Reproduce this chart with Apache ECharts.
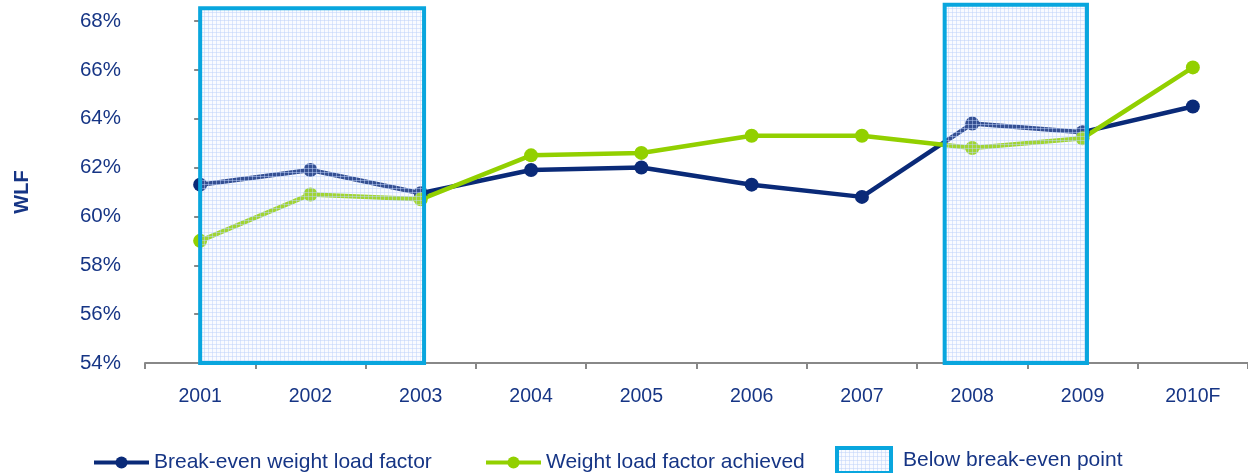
<!DOCTYPE html>
<html>
<head>
<meta charset="utf-8">
<script src="https://cdn.jsdelivr.net/npm/echarts@6/dist/echarts.min.js"></script>
<style>html,body{margin:0;padding:0;background:#fff}#c{width:1248px;height:473px}</style>
</head>
<body>
<div id="c"></div>
<script>
var categories = ['2001','2002','2003','2004','2005','2006','2007','2008','2009','2010F'];
var breakEven = [61.3, 61.9, 60.95, 61.9, 62.0, 61.3, 60.8, 63.8, 63.45, 64.5];
var achieved  = [59.0, 60.9, 60.7, 62.5, 62.6, 63.3, 63.3, 62.8, 63.2, 66.1];
var yTicks = [54, 56, 58, 60, 62, 64, 66, 68];
// Shaded "below break-even" spans, in category-index units, and their top in %
var belowStart = [0, 6.75];
var belowEnd   = [2.03, 8.04];
var belowTop   = [68.52, 68.67];

var NAVY = '#0a2a78', GREEN = '#92d000', CYAN = '#09a6de', TXT = '#163585';
var FONT = 'Liberation Sans, Arial, sans-serif';

var pc = document.createElement('canvas');
pc.width = 4; pc.height = 4;
var g = pc.getContext('2d');
g.fillStyle = 'rgba(225,235,255,0.2)'; g.fillRect(0,0,4,4);
g.fillStyle = 'rgba(190,210,250,0.5)'; g.fillRect(0,0,4,1); g.fillRect(0,0,1,4);
var pattern = {image: pc, repeat: 'repeat'};

var rects = belowStart.map(function(s, i){ return [s, belowEnd[i], belowTop[i]]; });

var legendText = {color: TXT, fontSize: 21, fontFamily: FONT};
var chart = echarts.init(document.getElementById('c'), null, {renderer: 'canvas'});
chart.setOption({
  animation: false,
  textStyle: {fontFamily: FONT},
  grid: {left: 145, right: 0, top: 21, bottom: 110, containLabel: false, outerBoundsMode: 'none'},
  legend: [
    {left: 92, top: 452, padding: 0, itemWidth: 55, itemHeight: 15, itemGap: 0,
     textStyle: legendText,
     data: [{name: 'Break-even weight load factor', lineStyle: {width: 4}}]},
    {left: 484, top: 452, padding: 0, itemWidth: 55, itemHeight: 15, itemGap: 0,
     textStyle: legendText,
     data: [{name: 'Weight load factor achieved', lineStyle: {width: 4}}]},
    {left: 835, top: 446, padding: 0, itemWidth: 54, itemHeight: 25, itemGap: 0,
     textStyle: {color: TXT, fontSize: 21, fontFamily: FONT, padding: [0,0,0,7]},
     data: [{name: 'Below break-even point', icon: 'rect',
             itemStyle: {color: pattern, borderColor: CYAN, borderWidth: 4}}]}
  ],
  xAxis: [
    {type: 'category', data: categories, boundaryGap: true,
     axisLine: {lineStyle: {color: '#888', width: 2}},
     axisTick: {show: true, length: 6, lineStyle: {color: '#888', width: 2}},
     axisLabel: {color: TXT, fontSize: 19.5, margin: 24, fontFamily: FONT},
     splitLine: {show: false}},
    {type: 'value', min: -0.5, max: 9.5, show: false}
  ],
  yAxis: [{
    type: 'value', min: yTicks[0], max: yTicks[yTicks.length-1], interval: 2,
    name: 'WLF', nameLocation: 'middle', nameGap: 113, nameRotate: 90,
    nameTextStyle: {color: TXT, fontSize: 20, fontWeight: 'bold', fontFamily: FONT},
    axisLine: {show: true, lineStyle: {color: '#888', width: 2}},
    axisTick: {show: true, length: 6, lineStyle: {color: '#888', width: 2}},
    axisLabel: {color: TXT, fontSize: 20.5, margin: 24, fontFamily: FONT,
                formatter: function(v){ return v + '%'; }},
    splitLine: {show: false}
  }],
  series: [
    {name: 'Break-even weight load factor', type: 'line', data: breakEven,
     symbol: 'circle', symbolSize: 14, z: 2,
     lineStyle: {color: NAVY, width: 4.5}, itemStyle: {color: NAVY}},
    {name: 'Weight load factor achieved', type: 'line', data: achieved,
     symbol: 'circle', symbolSize: 14, z: 2,
     lineStyle: {color: GREEN, width: 4.5}, itemStyle: {color: GREEN}},
    {name: 'Below break-even point', type: 'custom', xAxisIndex: 1, yAxisIndex: 0,
     z: 5, clip: false, data: rects,
     itemStyle: {color: pattern, borderColor: CYAN, borderWidth: 4},
     renderItem: function(params, api){
       var p0 = api.coord([api.value(0), yTicks[0]]);
       var p1 = api.coord([api.value(1), api.value(2)]);
       return {type: 'rect',
         shape: {x: p0[0], y: p1[1], width: p1[0]-p0[0], height: p0[1]-p1[1]},
         style: {fill: pattern, stroke: CYAN, lineWidth: 4}};
     }}
  ]
});
</script>
</body>
</html>
